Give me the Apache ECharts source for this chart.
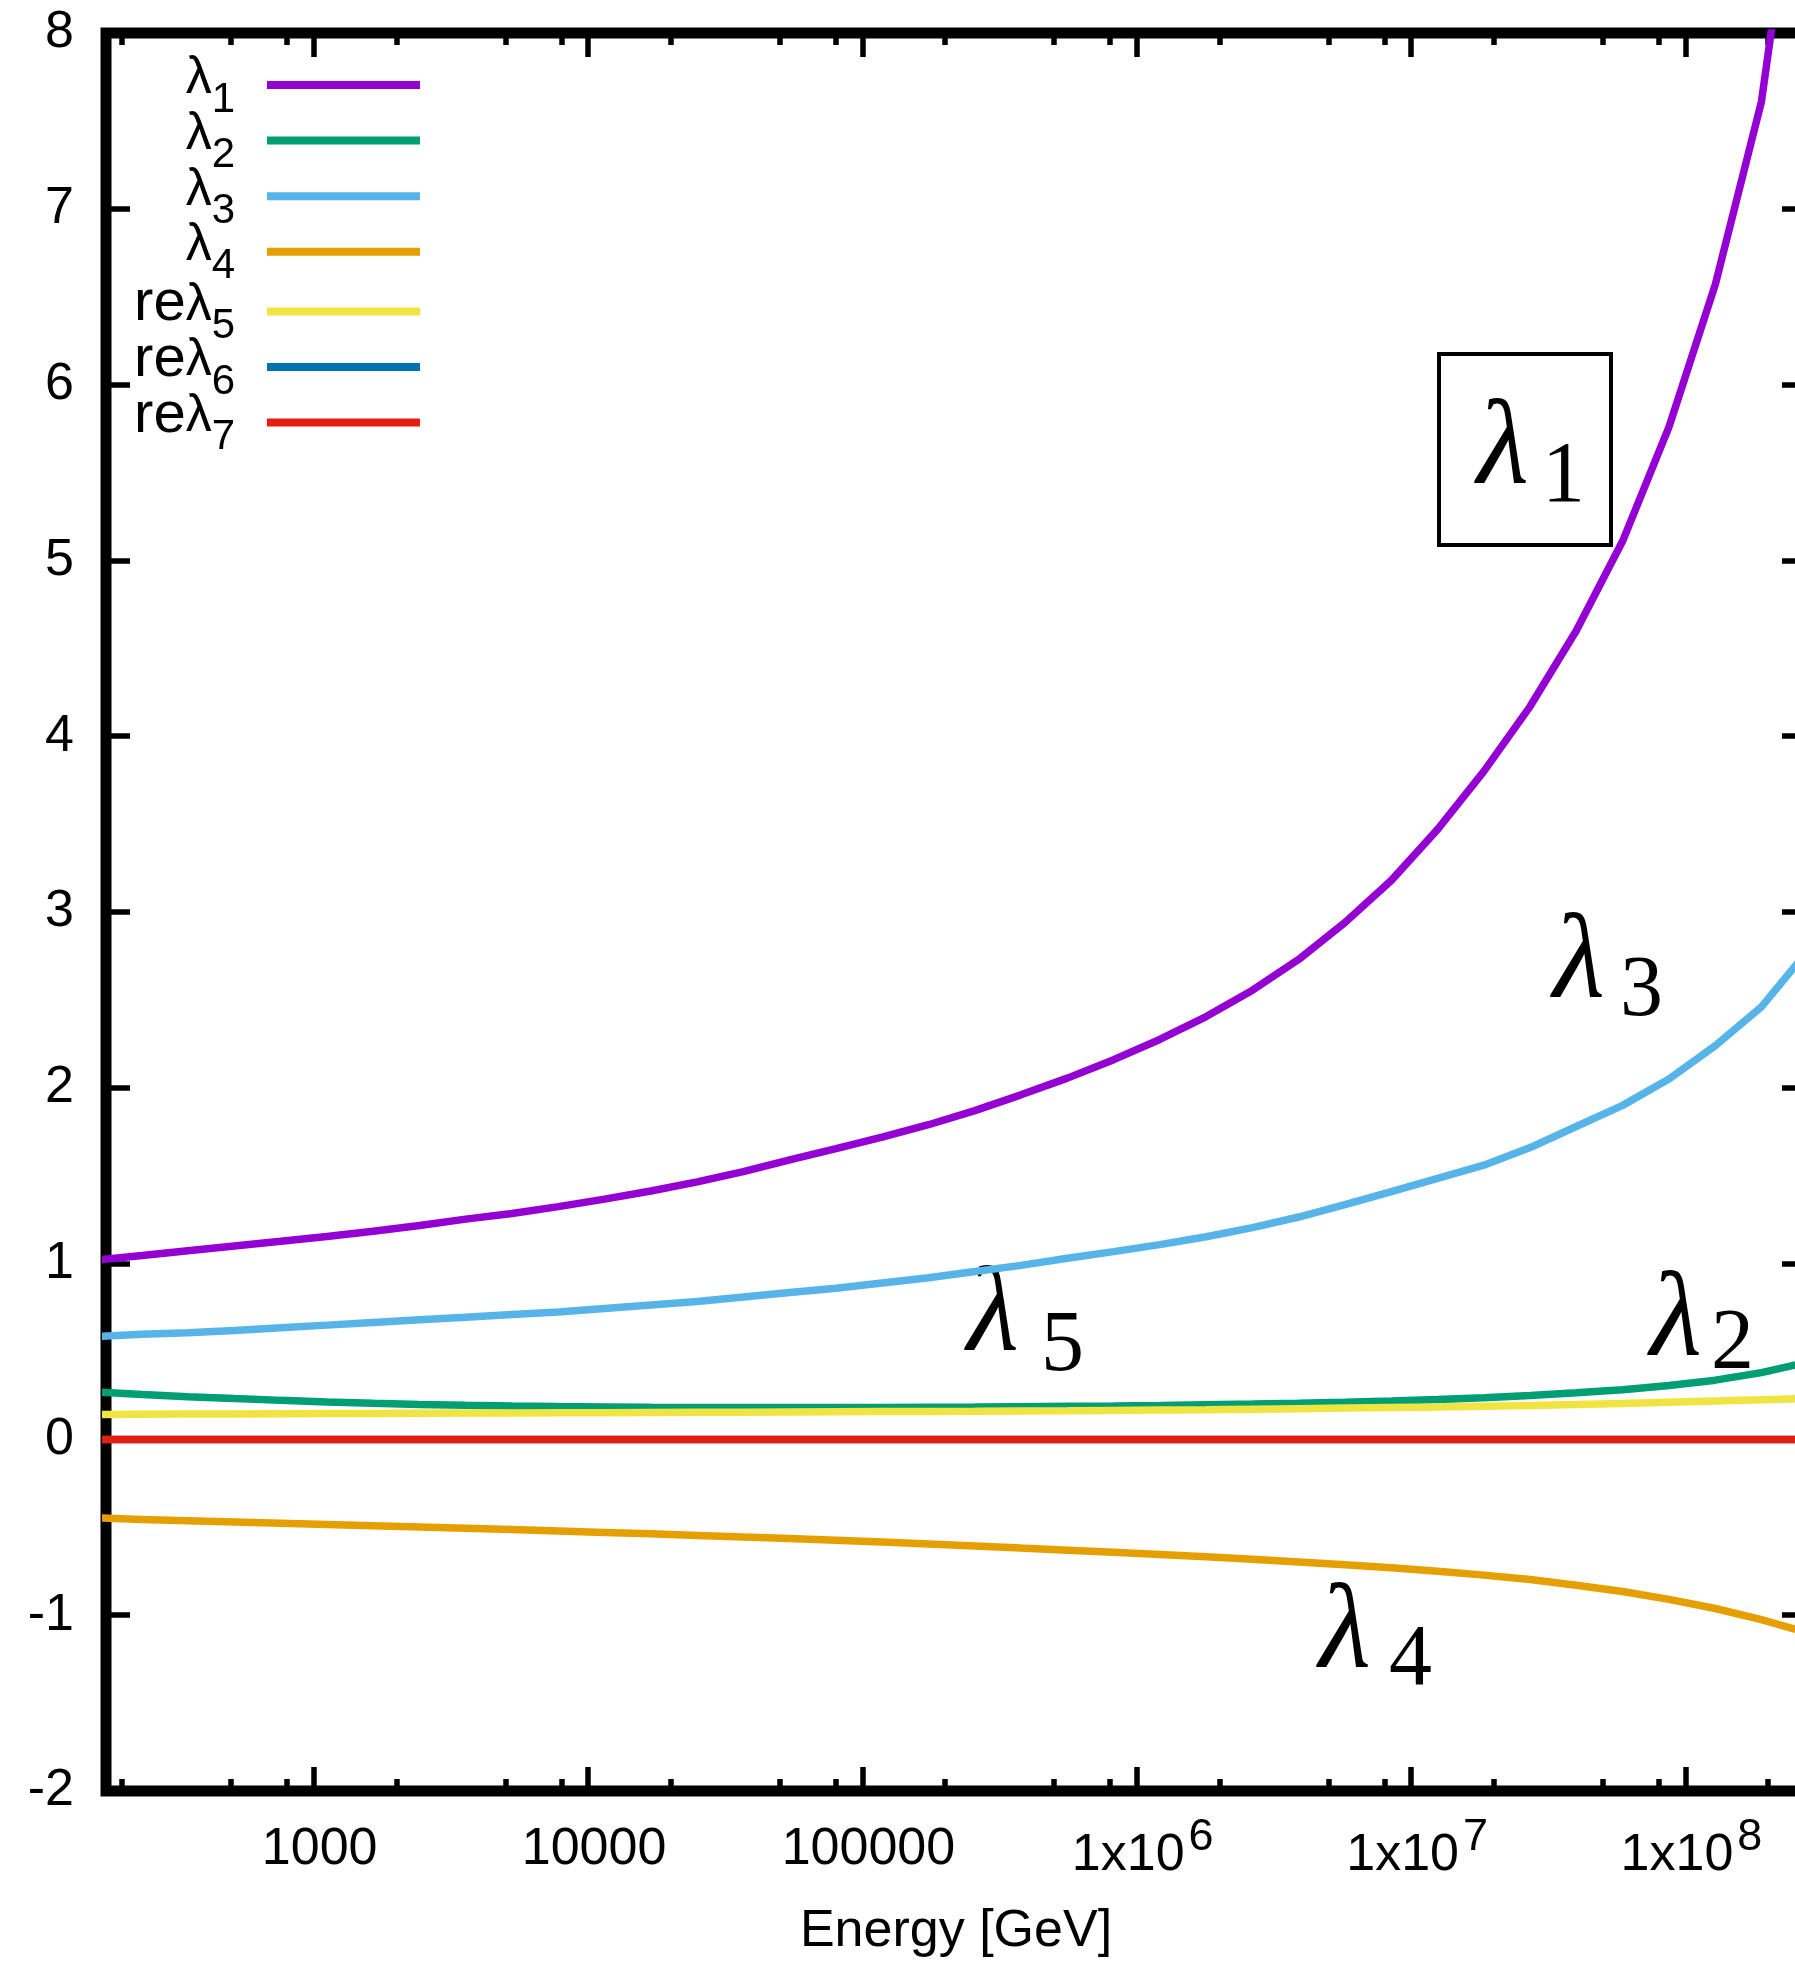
<!DOCTYPE html>
<html><head><meta charset="utf-8">
<script src="https://cdn.jsdelivr.net/npm/echarts@6/dist/echarts.min.js"></script>
<style>html,body{margin:0;padding:0;background:#fff;overflow:hidden}#wrap{width:1795px;height:1968px;overflow:hidden;position:relative}#c{width:1812px;height:1968px}</style>
</head><body><div id="wrap"><div id="c"></div></div>
<script>
// Energy sample points [GeV]
const energy = [160, 237, 348, 514, 759, 1117, 1648, 2432, 3581, 5284, 7798, 11480, 16940, 25000, 36810, 54330, 80170, 118000, 174200, 257000, 378400, 558500, 824100, 1213000, 1791000, 2642000, 3891000, 5741000, 8472000, 12490000, 18410000, 27160000, 39990000, 59020000, 87100000, 128500000, 189200000, 279300000];
const lambda1 = [1.019, 1.046, 1.073, 1.100, 1.127, 1.154, 1.184, 1.217, 1.253, 1.285, 1.324, 1.367, 1.413, 1.465, 1.523, 1.590, 1.654, 1.720, 1.790, 1.870, 1.960, 2.055, 2.160, 2.275, 2.405, 2.555, 2.730, 2.940, 3.180, 3.470, 3.800, 4.170, 4.600, 5.110, 5.760, 6.570, 7.610, 9.50];
const lambda2 = [0.270, 0.255, 0.243, 0.232, 0.222, 0.213, 0.205, 0.199, 0.194, 0.190, 0.187, 0.185, 0.183, 0.182, 0.181, 0.181, 0.181, 0.182, 0.183, 0.184, 0.186, 0.188, 0.190, 0.193, 0.197, 0.201, 0.206, 0.212, 0.219, 0.227, 0.237, 0.250, 0.265, 0.283, 0.307, 0.337, 0.380, 0.440];
const lambda3 = [0.585, 0.598, 0.607, 0.620, 0.635, 0.650, 0.665, 0.680, 0.695, 0.710, 0.725, 0.745, 0.765, 0.785, 0.810, 0.835, 0.860, 0.890, 0.920, 0.955, 0.990, 1.030, 1.068, 1.108, 1.153, 1.205, 1.265, 1.335, 1.410, 1.485, 1.560, 1.660, 1.780, 1.900, 2.050, 2.240, 2.460, 2.780];
const lambda4 = [-0.446, -0.456, -0.463, -0.470, -0.477, -0.484, -0.491, -0.498, -0.505, -0.513, -0.521, -0.529, -0.537, -0.546, -0.555, -0.564, -0.574, -0.584, -0.595, -0.606, -0.618, -0.630, -0.642, -0.655, -0.668, -0.682, -0.697, -0.713, -0.730, -0.750, -0.772, -0.797, -0.830, -0.865, -0.910, -0.962, -1.025, -1.100];
const reLambda5 = [0.142, 0.143, 0.144, 0.145, 0.146, 0.147, 0.148, 0.149, 0.150, 0.150, 0.151, 0.152, 0.153, 0.154, 0.155, 0.156, 0.157, 0.158, 0.159, 0.160, 0.162, 0.163, 0.165, 0.167, 0.169, 0.172, 0.175, 0.178, 0.181, 0.184, 0.188, 0.193, 0.198, 0.204, 0.211, 0.218, 0.225, 0.233];
const reLambda6 = [0, 0, 0, 0, 0, 0, 0, 0, 0, 0, 0, 0, 0, 0, 0, 0, 0, 0, 0, 0, 0, 0, 0, 0, 0, 0, 0, 0, 0, 0, 0, 0, 0, 0, 0, 0, 0, 0];
const reLambda7 = [0, 0, 0, 0, 0, 0, 0, 0, 0, 0, 0, 0, 0, 0, 0, 0, 0, 0, 0, 0, 0, 0, 0, 0, 0, 0, 0, 0, 0, 0, 0, 0, 0, 0, 0, 0, 0, 0];

const seriesNames = ['λ1', 'λ2', 'λ3', 'λ4', 'reλ5', 'reλ6', 'reλ7'];
const seriesColors = ['#9400d3', '#009e73', '#56b4e9', '#e69f00', '#f0e442', '#0072b2', '#e51e10'];
const xMajorTicks = [1e3, 1e4, 1e5, 1e6, 1e7, 1e8];
const xMajorLabels = ['1000', '10000', '100000', '1x10^6', '1x10^7', '1x10^8'];
const xMinorTicks = [200, 500, 800, 2e3, 5e3, 8e3, 2e4, 5e4, 8e4, 2e5, 5e5, 8e5, 2e6, 5e6, 8e6, 2e7, 5e7, 8e7, 2e8];
const xTitle = 'Energy [GeV]';
const annotationTexts = [['λ', '1'], ['λ', '3'], ['λ', '5'], ['λ', '2'], ['λ', '4']];

const allSeries = [lambda1, lambda2, lambda3, lambda4, reLambda5, reLambda6, reLambda7];
const FONT = 'Liberation Sans';
const SERIF = 'Liberation Serif';

function fmtX(v) {
  const i = xMajorTicks.findIndex(t => Math.abs(Math.log10(t) - Math.log10(v)) < 1e-6);
  const s = i >= 0 ? xMajorLabels[i] : String(v);
  const k = s.indexOf('^');
  return k < 0 ? '{m|' + s + '}' : '{m2|' + s.slice(0, k) + '}{s|' + s.slice(k + 1) + '}';
}
function fmtLegend(name) {
  const m = name.match(/^(re)?(.*?)(\d+)$/);
  return (m[1] ? '{r|' + m[1] + '}' : '') + '{m|' + m[2] + '}{s|' + m[3] + '}';
}

const X_MIN = 175, X_MAX = 2.75e8;
const tickStyle = { width: 5.5, color: '#000' };
function xAxisDef(pos, ticks, len, withLabels) {
  const a = {
    type: 'log', logBase: 10, min: X_MIN, max: X_MAX, position: pos, gridIndex: 0,
    splitLine: { show: false }, minorTick: { show: false }, minorSplitLine: { show: false },
    axisLine: { show: false, onZero: false },
    axisTick: { show: true, inside: true, length: len, customValues: ticks, lineStyle: tickStyle },
    axisLabel: { show: false }
  };
  if (withLabels) {
    a.axisLabel = {
      show: true, customValues: ticks, formatter: fmtX, margin: 8, color: '#000',
      fontFamily: FONT, fontSize: 52,
      rich: {
        m: { fontFamily: FONT, fontSize: 52, color: '#000', padding: [24.6, 0, 0, 12], verticalAlign: 'top' },
        m2: { fontFamily: FONT, fontSize: 52, color: '#000', padding: [30.6, 0, 0, 12], verticalAlign: 'top' },
        s: { fontFamily: FONT, fontSize: 45, color: '#000', padding: [16.2, 0, 0, 4], verticalAlign: 'top' }
      }
    };
    a.name = xTitle;
    a.nameLocation = 'middle';
    a.nameGap = 115;
    a.nameTextStyle = { fontFamily: FONT, fontSize: 52, color: '#000' };
  }
  return a;
}
function yAxisDef(pos, withLabels) {
  return {
    type: 'value', min: -2, max: 8, interval: 1, position: pos, gridIndex: 0,
    splitLine: { show: false },
    axisLine: { show: false, onZero: false },
    axisTick: { show: true, inside: true, length: 24, lineStyle: tickStyle },
    axisLabel: withLabels ? { show: true, margin: 32, color: '#000', fontFamily: FONT, fontSize: 52 } : { show: false }
  };
}

const legendRow0 = 85, legendStep = 55.6;
const legends = seriesNames.map((n, i) => ({
  data: [n], orient: 'vertical', right: 1392, top: legendRow0 + i * legendStep - 32,
  padding: 0, align: 'right', icon: 'rect', itemWidth: 153, itemHeight: 8,
  selectedMode: false, formatter: fmtLegend,
  textStyle: {
    color: '#000', fontFamily: FONT, fontSize: 52,
    rich: {
      r: { fontFamily: FONT, fontSize: 58, color: '#000', padding: [0, 0, 0, 0], verticalAlign: 'top' },
      m: { fontFamily: FONT, fontSize: 52, color: '#000', padding: [4, 0, 0, 0], verticalAlign: 'top' },
      s: { fontFamily: FONT, fontSize: 42, color: '#000', padding: [30, 27, 0, 0], verticalAlign: 'top' }
    }
  }
}));

// annotation layout: [lambda x, lambda y, sub x, sub y]
const annLayout = [[1477, 451, 1542, 478], [1553, 965, 1620, 992], [967, 1318, 1041, 1347], [1650, 1323, 1711, 1345], [1319, 1635, 1389, 1661]];
const graphics = [];
annotationTexts.forEach((t, i) => {
  const p = annLayout[i];
  graphics.push({ type: 'text', x: p[0], y: p[1], silent: true, style: { text: t[0], font: 'italic 120px "' + SERIF + '"', fill: '#000', align: 'left', verticalAlign: 'middle' } });
  graphics.push({ type: 'text', x: p[2], y: p[3], silent: true, style: { text: t[1], font: '86px "' + SERIF + '"', fill: '#000', align: 'left', verticalAlign: 'middle' } });
});
graphics.push({ type: 'rect', silent: true, shape: { x: 1439, y: 354, width: 172, height: 191 }, style: { fill: 'none', stroke: '#000', lineWidth: 4 } });

const chart = echarts.init(document.getElementById('c'), null, { renderer: 'canvas' });
chart.setOption({
  animation: false,
  backgroundColor: '#fff',
  textStyle: { fontFamily: FONT },
  grid: { left: 106, right: 6, top: 33, bottom: 177, show: true, borderWidth: 11, borderColor: '#000', backgroundColor: 'transparent', containLabel: false },
  xAxis: [
    xAxisDef('bottom', xMajorTicks, 24, true),
    xAxisDef('top', xMajorTicks, 24, false),
    xAxisDef('bottom', xMinorTicks, 12, false),
    xAxisDef('top', xMinorTicks, 12, false)
  ],
  yAxis: [yAxisDef('left', true), yAxisDef('right', false)],
  legend: legends,
  graphic: graphics,
  series: seriesNames.map((n, i) => ({
    name: n, type: 'line', xAxisIndex: 0, yAxisIndex: 0,
    data: energy.map((e, k) => [e, allSeries[i][k]]),
    showSymbol: false, symbol: 'none', clip: true, silent: true,
    lineStyle: { width: 7.5, color: seriesColors[i] },
    itemStyle: { color: seriesColors[i] }
  }))
});
</script></body></html>
